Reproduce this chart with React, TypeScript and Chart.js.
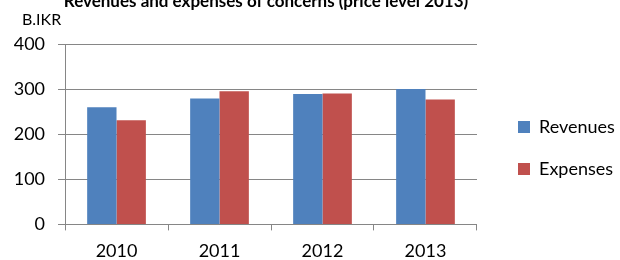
import React, { useEffect, useRef } from "react";
import { Chart, registerables } from "chart.js";

Chart.register(...registerables);

const categories = ["2010", "2011", "2012", "2013"];
const revenues = [260, 279, 289, 300];
const expenses = [231, 295, 290, 277];
const yTicks = [0, 100, 200, 300, 400];
const titleText = "Revenues and expenses of concerns (price level 2013)";
const unitText = "B.IKR";

const FONT = "Lato, 'Open Sans', sans-serif";
const GRID = "#868686";

const textPlugin = {
  id: "textPlugin",
  afterDraw(chart: any) {
    const ctx = chart.ctx;
    const area = chart.chartArea;
    ctx.save();
    ctx.fillStyle = "#000";
    ctx.textAlign = "center";
    ctx.textBaseline = "alphabetic";
    ctx.font = `bold 17px ${FONT}`;
    ctx.fillText(titleText, (area.left + area.right) / 2 - 5, 7);
    ctx.textAlign = "left";
    ctx.textBaseline = "middle";
    ctx.font = `16px ${FONT}`;
    ctx.fillText(unitText, 22, 20);
    ctx.restore();
  },
};

export default function App() {
  const ref = useRef<HTMLCanvasElement>(null);
  useEffect(() => {
    const chart = new Chart(ref.current!, {
      type: "bar",
      data: {
        labels: categories,
        datasets: [
          { label: "Revenues", data: revenues, backgroundColor: "#4F81BD", borderWidth: 0 },
          { label: "Expenses", data: expenses, backgroundColor: "#C0504D", borderWidth: 0 },
        ],
      },
      options: {
        animation: false,
        responsive: false,
        maintainAspectRatio: false,
        datasets: { bar: { categoryPercentage: 0.57, barPercentage: 1 } },
        layout: { padding: { top: 44, left: 0.7, right: -4.9, bottom: -12 } },
        plugins: {
          legend: {
            position: "right",
            align: "start",
            maxWidth: 220,
            title: { display: true, text: " ", font: { size: 10 }, padding: { top: 38, bottom: 0 } },
            labels: {
              boxWidth: 12,
              boxHeight: 12,
              padding: 24,
              color: "#000",
              font: { family: FONT, size: 18 },
            },
          },
          title: { display: false },
          tooltip: { enabled: false },
        },
        scales: {
          x: {
            grid: { display: true, drawOnChartArea: false, offset: true, color: GRID, tickLength: 6 },
            border: { color: GRID, width: 1 },
            ticks: { color: "#000", font: { family: FONT, size: 18 }, padding: 10 },
          },
          y: {
            min: 0,
            max: 400,
            afterBuildTicks: (axis: any) => {
              axis.ticks = yTicks.map((v) => ({ value: v }));
            },
            grid: { color: GRID, tickLength: 7, lineWidth: 1 },
            border: { color: GRID, width: 1 },
            ticks: { color: "#000", font: { family: FONT, size: 18 }, padding: 13 },
          },
          gap: {
            type: "linear",
            position: "right",
            min: 0,
            max: 1,
            grid: { display: false },
            border: { display: false },
            ticks: { display: false },
            afterFit: (s: any) => {
              s.width = 17;
            },
          },
        },
      },
      plugins: [textPlugin],
    });
    return () => chart.destroy();
  }, []);
  return (
    <div style={{ position: "fixed", left: 0, top: 0, width: 620, height: 260, background: "#fff" }}>
      <canvas ref={ref} width={620} height={260} />
    </div>
  );
}
